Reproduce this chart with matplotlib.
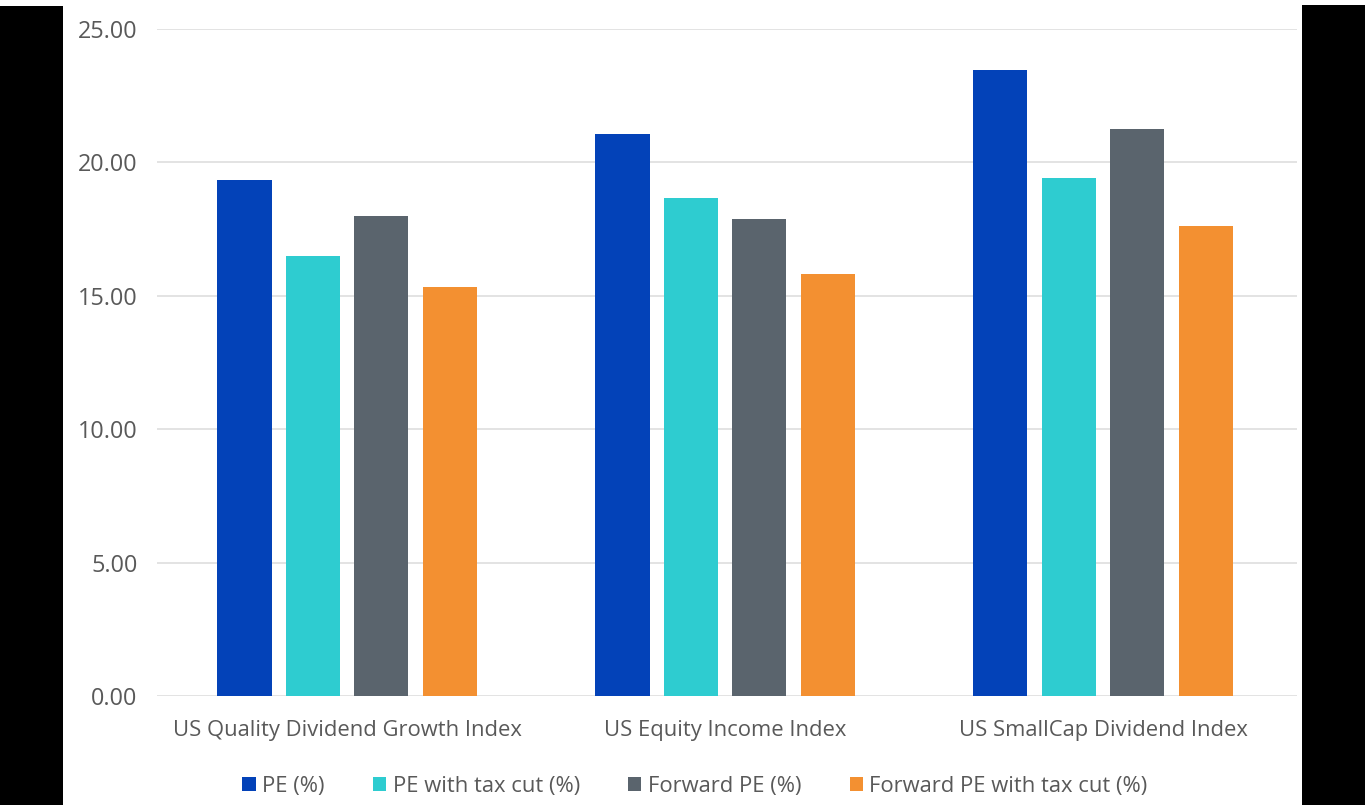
import matplotlib
matplotlib.use("Agg")
import matplotlib.pyplot as plt
import numpy as np
from matplotlib.patches import Rectangle

categories = ["US Quality Dividend Growth Index", "US Equity Income Index", "US SmallCap Dividend Index"]
series_names = ["PE (%)", "PE with tax cut (%)", "Forward PE (%)", "Forward PE with tax cut (%)"]
pe = [19.35, 21.05, 23.45]
pe_tax = [16.50, 18.65, 19.40]
fwd_pe = [18.00, 17.88, 21.25]
fwd_pe_tax = [15.33, 15.80, 17.60]
yticks = [0, 5, 10, 15, 20, 25]
ytick_labels = ["0.00", "5.00", "10.00", "15.00", "20.00", "25.00"]
colors = ["#0342B8", "#2ECCD0", "#5A646D", "#F39031"]

plt.rcParams['font.family'] = ['Open Sans', 'DejaVu Sans']
text_color = "#595959"

fig = plt.figure(figsize=(13.65, 8.05), dpi=100)
fig.patch.set_facecolor("white")
ax = fig.add_axes([157/1365, 1-696/805, (1297-157)/1365, (696-29)/805])

x = np.arange(len(categories))
width = 0.143
step = 0.181
all_series = [pe, pe_tax, fwd_pe, fwd_pe_tax]
for i, (vals, name, c) in enumerate(zip(all_series, series_names, colors)):
    ax.bar(x + (i - 1.5) * step, vals, width, color=c, label=name, zorder=3)

ax.set_xlim(-0.503, 2.513)
ax.set_ylim(0, 25)
ax.set_yticks(yticks)
ax.set_yticklabels(ytick_labels)
ax.set_xticks(x)
ax.set_xticklabels(categories)
ax.grid(axis='y', color="#e0e0e0", linewidth=1.3, zorder=0)
ax.tick_params(axis='both', length=0, colors=text_color)
ax.tick_params(axis='y', pad=14, labelsize=16.8)
ax.tick_params(axis='x', pad=17, labelsize=15.8)
for s in ax.spines.values():
    s.set_visible(False)

leg = ax.legend(loc='center', bbox_to_anchor=(0.472, -0.135), ncol=4, frameon=False,
                fontsize=15.8, handlelength=0.6, handleheight=0.6, handletextpad=0.3,
                columnspacing=2.2, labelcolor=text_color)

fig.patches.append(Rectangle((0, 0), 63/1365, 1 - 6/805, transform=fig.transFigure,
                             facecolor="black", edgecolor="none", zorder=10))
fig.patches.append(Rectangle((1302/1365, 0), 63/1365, 1 - 5/805, transform=fig.transFigure,
                             facecolor="black", edgecolor="none", zorder=10))

fig.savefig("out.png", dpi=100)
